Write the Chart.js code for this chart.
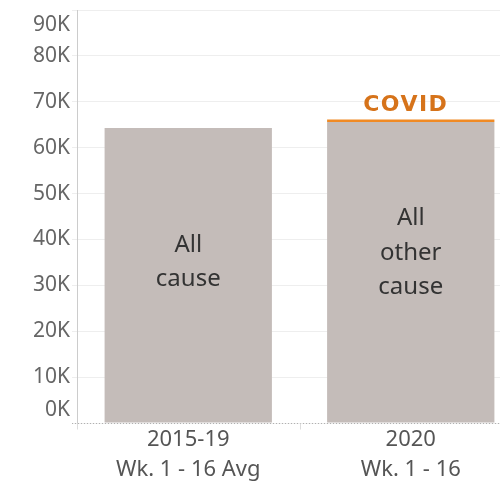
<!DOCTYPE html>
<html>
<head>
<meta charset="utf-8">
<script src="https://cdn.jsdelivr.net/npm/chart.js@4.4.1/dist/chart.umd.min.js"></script>
<style>
  html, body { margin: 0; padding: 0; background: #fff; overflow: hidden; }
  #wrap { width: 500px; height: 484px; overflow: hidden; }
  #box { width: 522px; height: 484px; position: relative; }
</style>
</head>
<body>
<div id="wrap"><div id="box"><canvas id="deathChart"></canvas></div></div>
<script>
// categories (two lines each)
const periods = [['2015-19', 'Wk. 1 - 16 Avg'], ['2020', 'Wk. 1 - 16']];
// deaths
const otherDeaths = [64300, 65600];
const covidDeaths = [0, 550];
// text inside the bars
const barTexts = [['All', 'cause'], ['All', 'other', 'cause']];
const covidText = 'COVID';
// y axis
const yTicks = [0, 10000, 20000, 30000, 40000, 50000, 60000, 70000, 80000, 90000];
const yTickLabels = ['0K', '10K', '20K', '30K', '40K', '50K', '60K', '70K', '80K', '90K'];

const GREY = '#c4bcb9';
const ORANGE = '#f08a24';

// draws y labels, baseline and text on bars
const annotate = {
  id: 'annotate',
  afterDraw(chart) {
    const ctx = chart.ctx;
    const y = chart.scales.y;
    const x = chart.scales.x;
    const area = chart.chartArea;
    const base = Math.round(y.getPixelForValue(0)) + 0.5;
    ctx.save();

    // dotted base line
    ctx.strokeStyle = '#b0b0b0';
    ctx.lineWidth = 1;
    ctx.setLineDash([1, 2]);
    ctx.beginPath();
    ctx.moveTo(area.left - 5, base);
    ctx.lineTo(area.right, base);
    ctx.stroke();
    ctx.setLineDash([]);

    // y axis line running a bit below base, and the category divider
    ctx.strokeStyle = '#dddddd';
    ctx.beginPath();
    ctx.moveTo(area.left + 0.5, base);
    ctx.lineTo(area.left + 0.5, base + 6);
    const divX = Math.round((x.getPixelForValue(0) + x.getPixelForValue(1)) / 2) + 0.5;
    ctx.moveTo(divX, base);
    ctx.lineTo(divX, base + 6);
    ctx.stroke();

    // y tick labels (edge ones pushed inward like the original)
    ctx.font = '21px "Noto Sans"';
    ctx.fillStyle = '#666';
    ctx.textAlign = 'right';
    ctx.textBaseline = 'middle';
    yTicks.forEach((v, i) => {
      let py = y.getPixelForValue(v);
      if (i === 0) py -= 13;
      if (i === yTicks.length - 1) py += 15;
      ctx.fillText(yTickLabels[i], area.left - 7, py);
    });

    // text inside bars
    const meta = chart.getDatasetMeta(0);
    ctx.font = '24px "Noto Sans"';
    ctx.fillStyle = '#333';
    ctx.textAlign = 'center';
    meta.data.forEach((bar, i) => {
      const lines = barTexts[i];
      const mid = (bar.y + bar.base) / 2 - 6.5 * lines.length;
      const lh = 34.5;
      lines.forEach((t, k) => {
        ctx.fillText(t, bar.x, mid + (k - (lines.length - 1) / 2) * lh);
      });
    });

    // COVID label above the orange cap
    const cmeta = chart.getDatasetMeta(1);
    const cbar = cmeta.data[1];
    ctx.font = 'bold 22px "DejaVu Sans"';
    ctx.letterSpacing = '1.5px';
    ctx.fillStyle = '#d6731a';
    ctx.textBaseline = 'alphabetic';
    ctx.fillText(covidText, cbar.x - 5, cbar.y - 8);
    ctx.restore();
  }
};

new Chart(document.getElementById('deathChart'), {
  type: 'bar',
  data: {
    labels: periods,
    datasets: [
      {
        label: 'All other cause',
        data: otherDeaths,
        backgroundColor: GREY,
        categoryPercentage: 1,
        barPercentage: 0.752
      },
      {
        label: 'COVID',
        data: covidDeaths,
        backgroundColor: ORANGE,
        categoryPercentage: 1,
        barPercentage: 0.752
      }
    ]
  },
  options: {
    responsive: true,
    maintainAspectRatio: false,
    animation: false,
    layout: { padding: { top: 10, left: 0, right: 0, bottom: 0 } },
    plugins: {
      legend: { display: false },
      tooltip: { enabled: false }
    },
    scales: {
      x: {
        stacked: true,
        grid: { display: false, drawTicks: false },
        border: { display: false },
        ticks: {
          color: '#555',
          font: { family: 'Noto Sans', size: 22, lineHeight: 1.36 },
          padding: 2,
          maxRotation: 0
        },
        afterFit(scale) { scale.height = 61; }
      },
      y: {
        stacked: true,
        min: 0,
        max: 90000,
        ticks: { display: false, stepSize: 10000 },
        grid: { color: '#eeeeee', tickLength: 5, tickColor: '#eeeeee' },
        border: { display: true, color: '#cccccc' },
        afterFit(scale) { scale.width = 77; }
      }
    }
  },
  plugins: [annotate]
});
</script>
</body>
</html>
